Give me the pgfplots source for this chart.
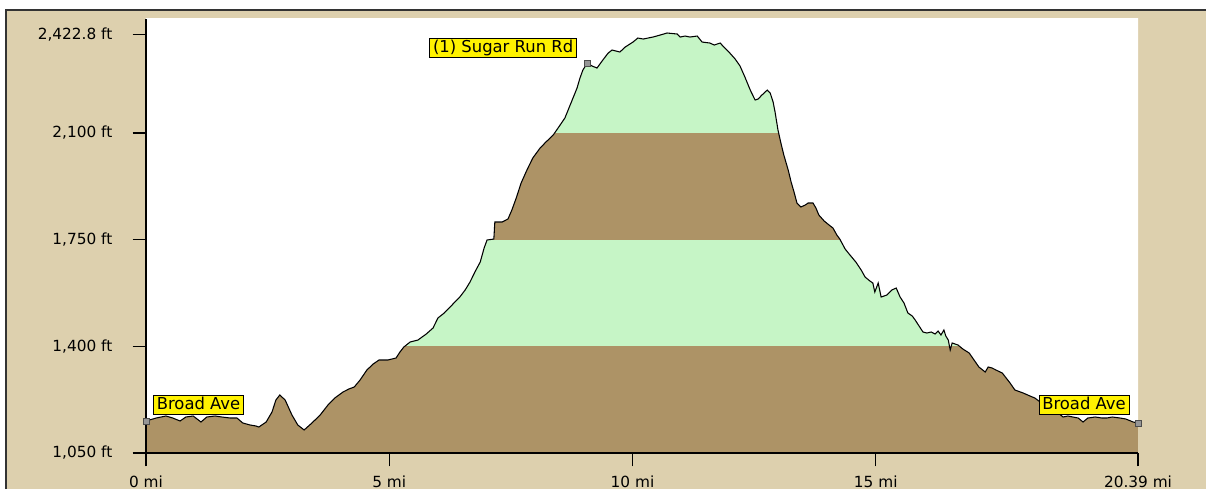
\documentclass[border=0pt]{standalone}
\usepackage{pgfplots}
\pgfplotsset{compat=1.18}
\usepackage{pgfplotstable}
\usepackage{fontspec}
\setmainfont{DejaVu Sans}
\definecolor{panel}{RGB}{221,208,174}
\definecolor{bandbrown}{RGB}{173,147,102}
\definecolor{bandgreen}{RGB}{198,245,198}
\definecolor{markgray}{RGB}{150,150,150}

\pgfplotstableread{
mi ft
0.00 1155.0
0.21 1164.8
0.41 1171.4
0.55 1164.8
0.70 1155.0
0.82 1168.1
0.97 1171.4
1.13 1151.7
1.25 1168.1
1.42 1171.4
1.56 1168.1
1.73 1164.8
1.87 1164.8
1.99 1148.4
2.14 1141.9
2.26 1138.6
2.32 1135.3
2.47 1151.7
2.59 1184.5
2.67 1223.9
2.75 1240.3
2.86 1223.9
3.00 1174.7
3.12 1141.9
3.25 1125.5
3.41 1148.4
3.58 1174.7
3.74 1207.5
3.88 1230.4
4.05 1250.1
4.17 1260.0
4.28 1266.5
4.40 1289.5
4.54 1322.3
4.67 1342.0
4.79 1355.1
4.97 1355.1
5.14 1361.7
5.22 1381.4
5.30 1397.8
5.43 1414.2
5.59 1420.7
5.76 1440.4
5.90 1460.1
6.00 1492.9
6.13 1509.3
6.29 1535.6
6.45 1561.8
6.56 1584.8
6.66 1611.0
6.76 1643.8
6.87 1676.6
6.95 1722.6
7.01 1748.8
7.15 1752.1
7.17 1807.9
7.32 1807.9
7.44 1817.7
7.52 1847.2
7.61 1886.6
7.71 1935.8
7.83 1978.5
7.95 2017.8
8.10 2050.6
8.22 2070.3
8.37 2093.3
8.47 2116.3
8.61 2149.1
8.76 2208.1
8.86 2247.5
8.92 2280.3
8.98 2306.5
9.07 2329.5
9.17 2319.7
9.27 2313.1
9.39 2339.4
9.50 2362.3
9.58 2372.2
9.74 2365.6
9.85 2382.0
10.01 2398.4
10.11 2411.5
10.22 2408.3
10.42 2414.8
10.57 2421.4
10.71 2428.0
10.92 2424.7
10.98 2414.8
11.08 2418.1
11.18 2414.8
11.33 2418.1
11.43 2398.4
11.59 2395.1
11.68 2388.6
11.80 2395.1
11.90 2378.7
12.00 2362.3
12.11 2342.6
12.21 2319.7
12.31 2283.6
12.42 2240.9
12.52 2208.1
12.58 2211.4
12.66 2224.5
12.77 2240.9
12.83 2231.1
12.89 2201.6
12.93 2168.8
12.99 2109.7
13.05 2067.0
13.11 2027.7
13.20 1978.5
13.26 1939.1
13.32 1906.3
13.38 1870.2
13.46 1857.1
13.55 1863.6
13.61 1870.2
13.71 1870.2
13.77 1853.8
13.83 1830.8
13.94 1811.1
14.04 1798.0
14.12 1788.2
14.20 1765.2
14.26 1752.1
14.37 1719.3
14.47 1699.6
14.59 1676.6
14.70 1650.4
14.78 1627.4
14.88 1614.3
14.94 1607.7
14.98 1578.2
15.05 1607.7
15.11 1561.8
15.17 1565.1
15.23 1568.4
15.33 1584.8
15.42 1591.3
15.50 1561.8
15.58 1542.1
15.66 1509.3
15.75 1499.5
15.81 1486.3
15.89 1466.7
15.97 1447.0
16.05 1443.7
16.14 1447.0
16.22 1440.4
16.28 1450.3
16.34 1437.1
16.40 1453.5
16.44 1433.8
16.49 1420.7
16.53 1387.9
16.57 1410.9
16.69 1404.3
16.79 1391.2
16.92 1378.1
17.02 1355.1
17.12 1332.1
17.25 1315.7
17.31 1332.1
17.39 1328.9
17.47 1322.3
17.60 1312.5
17.68 1296.1
17.76 1279.7
17.86 1256.7
18.03 1246.8
18.17 1237.0
18.27 1230.4
18.38 1217.3
18.50 1200.9
18.62 1187.8
18.75 1181.2
18.85 1168.1
18.95 1171.4
19.05 1168.1
19.16 1164.8
19.26 1151.7
19.36 1164.8
19.51 1168.1
19.65 1164.8
19.75 1164.8
19.86 1168.1
20.02 1164.8
20.14 1161.5
20.29 1151.7
20.39 1148.4
}\profile

\begin{document}
\begin{tikzpicture}
\useasboundingbox (-109.5pt,-27pt) rectangle (795pt,339.75pt);
\fill[white] (-109.5pt,-27pt) rectangle (795pt,339.75pt);
\fill[panel] (-105pt,-27pt) rectangle (795pt,332.25pt);
\draw[black!80, line width=0.8pt] (-105pt,-27pt) -- (-105pt,332.25pt) -- (795pt,332.25pt);
\begin{axis}[
  at={(0pt,0pt)}, anchor=south west,
  scale only axis, width=744pt, height=325.5pt,
  xmin=0, xmax=20.39, ymin=1050, ymax=2474,
  axis background/.style={fill=white},
  axis on top,
  axis x line*=bottom, axis y line*=left,
  axis line style={black, line width=1pt},
  xtick={0,5,10,15,20.39},
  xticklabels={0 mi,5 mi,10 mi,15 mi,20.39 mi},
  ytick={1050,1400,1750,2100,2422.8},
  yticklabels={{1,050 ft},{1,400 ft},{1,750 ft},{2,100 ft},{2,422.8 ft}},
  tick align=outside, major tick length=10pt,
  tick style={black, line width=0.9pt},
  ticklabel style={font=\fontsize{11.5pt}{13pt}\selectfont, inner sep=0pt},
  yticklabel shift=15pt, xticklabel shift=7pt,
]
% elevation bands across the whole width
\addplot[fill=bandbrown, draw=none] coordinates {(0,1050) (20.39,1050) (20.39,1400) (0,1400)} -- cycle;
\addplot[fill=bandgreen, draw=none] coordinates {(0,1400) (20.39,1400) (20.39,1750) (0,1750)} -- cycle;
\addplot[fill=bandbrown, draw=none] coordinates {(0,1750) (20.39,1750) (20.39,2100) (0,2100)} -- cycle;
\addplot[fill=bandgreen, draw=none] coordinates {(0,2100) (20.39,2100) (20.39,2474) (0,2474)} -- cycle;
% sky above the profile
\addplot[fill=white, draw=none] table[x=mi, y=ft] {\profile} -- (axis cs:20.39,2480) -- (axis cs:0,2480) -- cycle;
% profile line
\addplot[black, line width=0.8pt] table[x=mi, y=ft] {\profile};
\addplot[only marks, mark=square*, mark size=2.2pt,
  mark options={fill=markgray, draw=black!70, line width=0.5pt}]
  coordinates {(0,1155.0) (9.07,2329.5) (20.39,1148.4)};
\node[fill=yellow, draw=black, line width=0.6pt, inner xsep=2.5pt, inner ysep=1.5pt,
  text height=9.3pt, text depth=2pt, font=\fontsize{12.3pt}{14pt}\selectfont]
  at (axis cs:1.08,1207.5) {Broad Ave};
\node[fill=yellow, draw=black, line width=0.6pt, inner xsep=2.5pt, inner ysep=1.5pt,
  text height=9.3pt, text depth=2pt, font=\fontsize{12.3pt}{14pt}\selectfont]
  at (axis cs:19.28,1207.5) {Broad Ave};
\node[fill=yellow, draw=black, line width=0.6pt, inner xsep=2.5pt, inner ysep=1.5pt,
  text height=9.3pt, text depth=2pt, font=\fontsize{12.3pt}{14pt}\selectfont]
  at (axis cs:7.34,2380.4) {(1) Sugar Run Rd};
\end{axis}
\end{tikzpicture}
\end{document}
